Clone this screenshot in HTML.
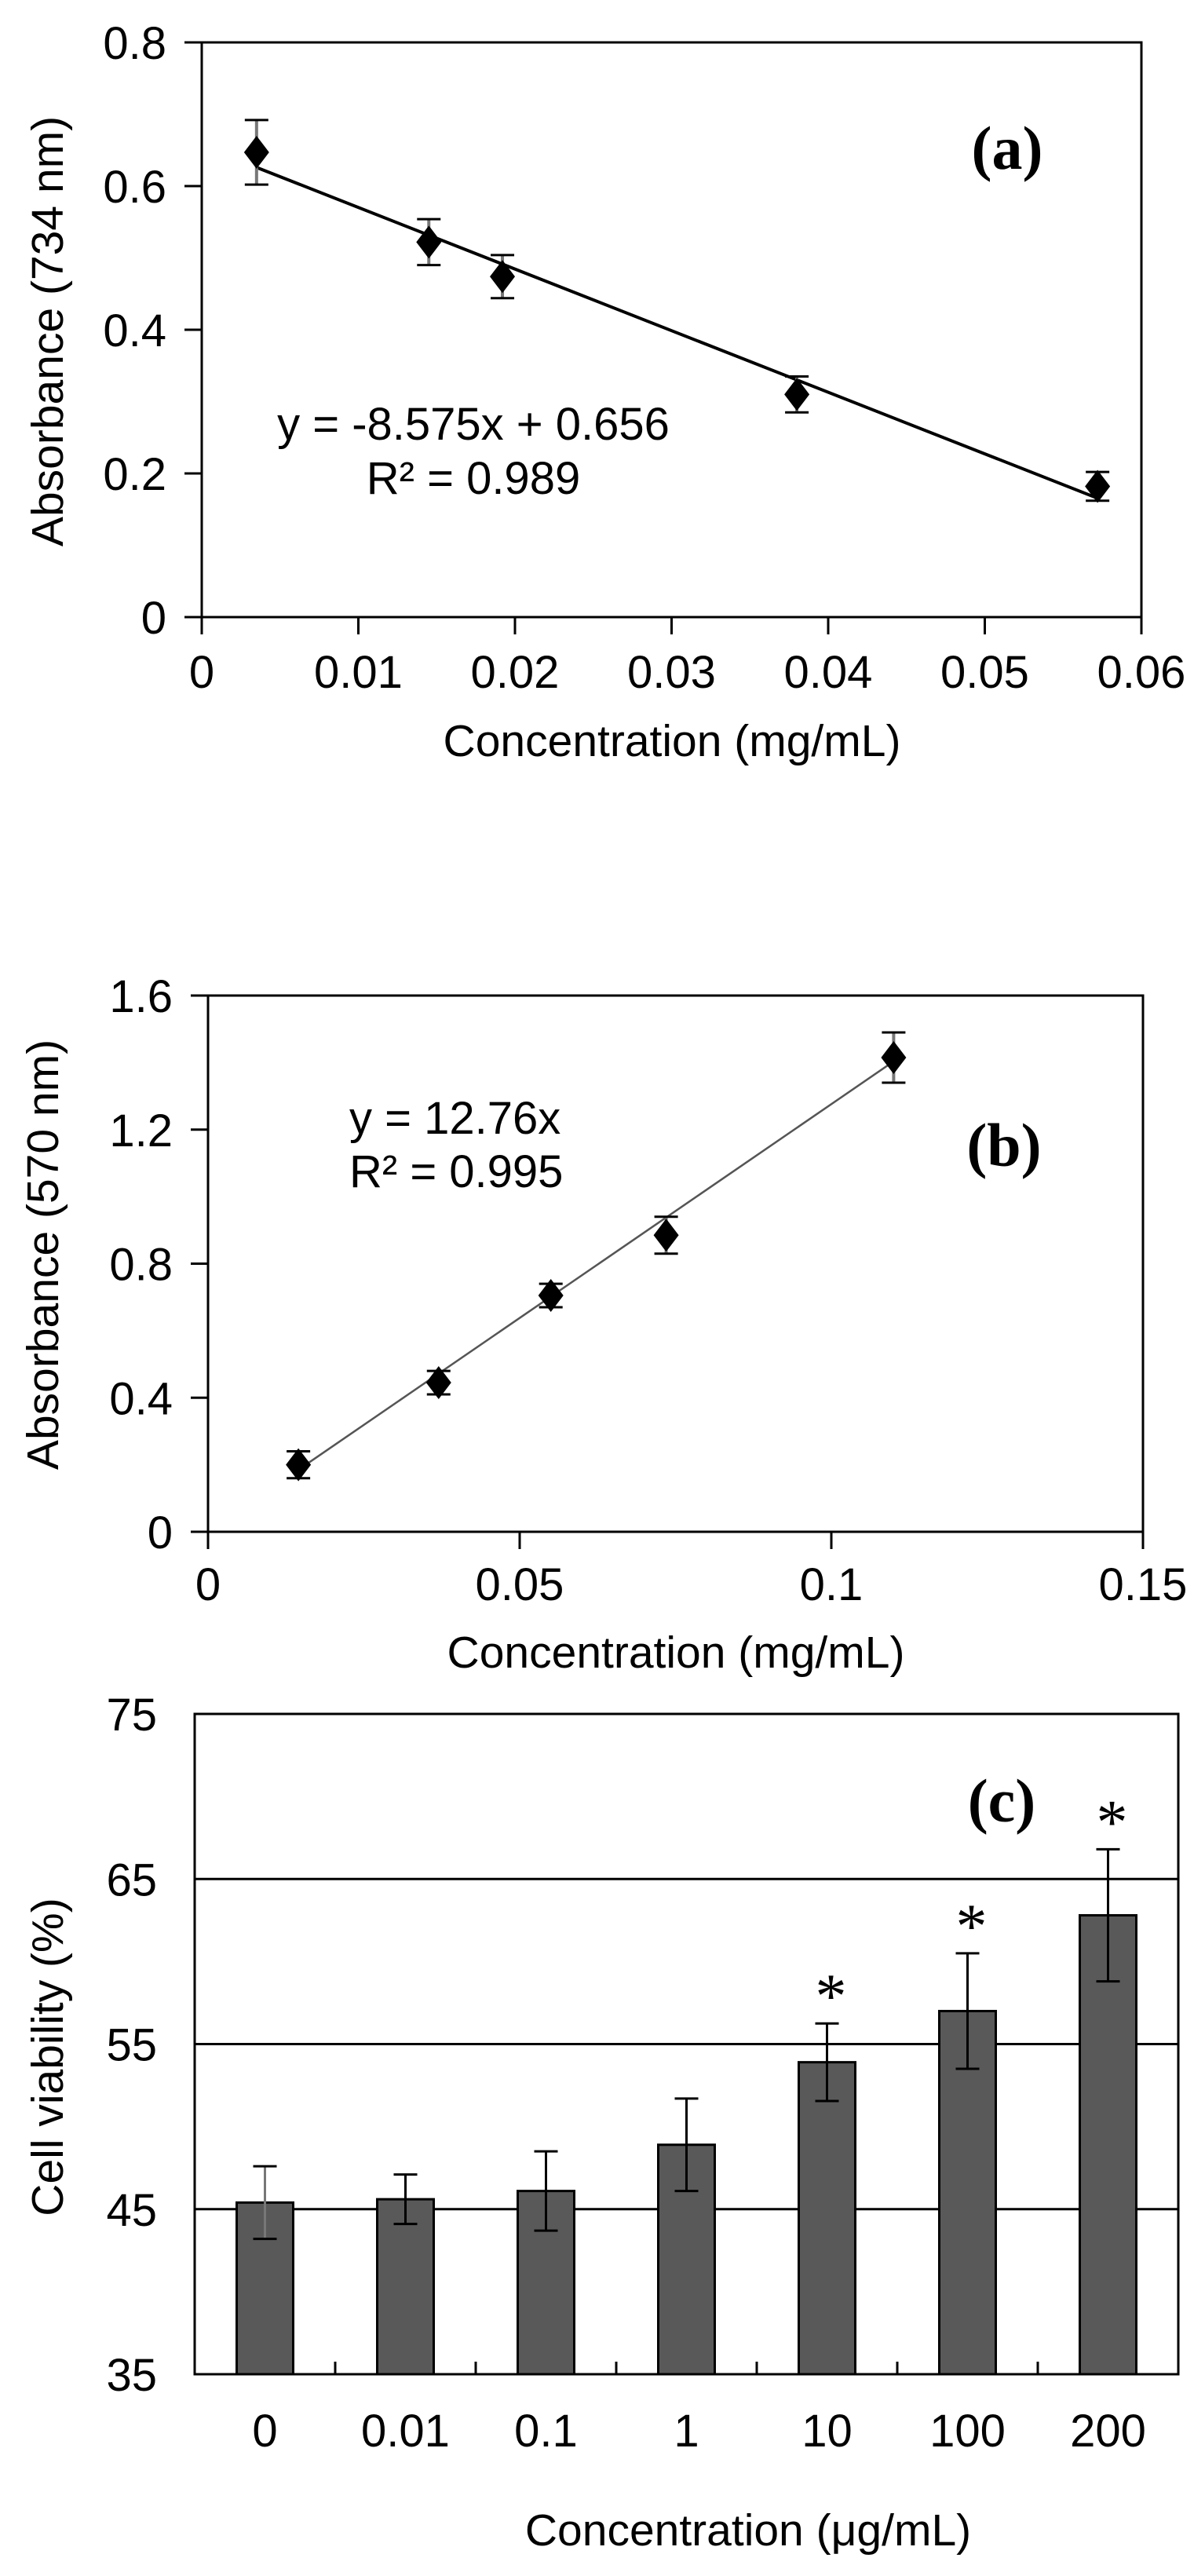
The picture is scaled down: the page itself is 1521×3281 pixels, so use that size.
<!DOCTYPE html>
<html><head><meta charset="utf-8"><style>
html,body{margin:0;padding:0;background:#fff}
svg{display:block}
text{font-family:"Liberation Sans",Arial,sans-serif;fill:#000}
.lbl{font-family:"Liberation Serif","Times New Roman",serif;font-weight:bold}
</style></head><body>
<svg id="fig" width="1521" height="3281" viewBox="0 0 1521 3281" xmlns="http://www.w3.org/2000/svg">
<rect width="1521" height="3281" fill="#fff"/>
<g id="ga"></g>
<g id="gb"></g>
<g id="gc"></g>
</svg>
<script>
// Chart (a) data
const aX = [0.0035, 0.0145, 0.0192, 0.038, 0.0572];
const aY = [0.647, 0.522, 0.474, 0.31, 0.182];
const aErr = [0.045, 0.032, 0.03, 0.025, 0.02];
const aXTicks = ["0", "0.01", "0.02", "0.03", "0.04", "0.05", "0.06"];
const aYTicks = ["0", "0.2", "0.4", "0.6", "0.8"];
const aSlope = -8.575, aIntercept = 0.656;
// Chart (b) data
const bX = [0.0145, 0.037, 0.055, 0.0735, 0.11];
const bY = [0.2, 0.445, 0.705, 0.885, 1.415];
const bErr = [0.04, 0.035, 0.035, 0.055, 0.075];
const bXTicks = ["0", "0.05", "0.1", "0.15"];
const bYTicks = ["0", "0.4", "0.8", "1.2", "1.6"];
const bSlope = 12.76;
// Chart (c) data
const cCats = ["0", "0.01", "0.1", "1", "10", "100", "200"];
const cVals = [45.4, 45.6, 46.1, 48.9, 53.9, 57.0, 62.8];
const cErr = [2.2, 1.5, 2.4, 2.8, 2.35, 3.5, 4.0];
const cSig = [false, false, false, false, true, true, true];
const cYTicks = ["35", "45", "55", "65", "75"];

const NS = "http://www.w3.org/2000/svg";
function mk(parent, tag, attrs, txt) {
  const e = document.createElementNS(NS, tag);
  for (const k in attrs) e.setAttribute(k, attrs[k]);
  if (txt !== undefined) e.textContent = txt;
  parent.appendChild(e);
  return e;
}

function scatterChart(g, o) {
  const sx = v => o.L + (v - o.xmin) / (o.xmax - o.xmin) * (o.R - o.L);
  const sy = v => o.B - (v - o.ymin) / (o.ymax - o.ymin) * (o.B - o.T);
  let e = mk(g, "rect", {x: o.L, y: o.T, width: o.R - o.L, height: o.B - o.T, fill: "none", stroke: "#000", "stroke-width": 3});
  
  
  o.yTicks.forEach(t => {
    const y = sy(parseFloat(t));
    let l = mk(g, "line", {x1: o.L - 22, x2: o.L, y1: y, y2: y, stroke: "#000", "stroke-width": 3});
    
    
    let tx = mk(g, "text", {x: o.L - 45, y: y + 21, "text-anchor": "end", "font-size": 58}, t);
    
    
  });
  o.xTicks.forEach(t => {
    const x = sx(parseFloat(t));
    let l = mk(g, "line", {x1: x, x2: x, y1: o.B, y2: o.B + 22, stroke: "#000", "stroke-width": 3});
    
    
    let tx = mk(g, "text", {x: x, y: o.xLabY + 21, "text-anchor": "middle", "font-size": 58}, t);
    
    
  });
  const x0 = o.xs[0], x1 = o.xs[o.xs.length - 1];
  let tl = mk(g, "line", {x1: sx(x0), y1: sy(o.fit(x0)), x2: sx(x1), y2: sy(o.fit(x1)), stroke: o.lineColor, "stroke-width": o.lineW});
  
  
  o.xs.forEach((xv, i) => {
    const x = sx(xv), y = sy(o.ys[i]), yt = sy(o.ys[i] + o.err[i]), yb = sy(o.ys[i] - o.err[i]);
    let eb = mk(g, "path", {d: `M${x},${yt}V${yb}`, stroke: "#777", "stroke-width": 4, fill: "none"});
    
    
    let cap = mk(g, "path", {d: `M${x-15},${yt}H${x+15}M${x-15},${yb}H${x+15}`, stroke: "#000", "stroke-width": 3, fill: "none"});
    
    
    let p = mk(g, "path", {d: `M${x},${y-21}L${x+16},${y}L${x},${y+21}L${x-16},${y}Z`, fill: "#000"});
    
    
  });
}

const ga = document.getElementById("ga");
scatterChart(ga, {L: 257, R: 1454, T: 54, B: 786, xmin: 0, xmax: 0.06, ymin: 0, ymax: 0.8,
  xTicks: aXTicks, yTicks: aYTicks, xs: aX, ys: aY, err: aErr, xLabY: 855,
  fit: x => aSlope * x + aIntercept, lineColor: "#000", lineW: 4});
const gb = document.getElementById("gb");
scatterChart(gb, {L: 265, R: 1456, T: 1268, B: 1951, xmin: 0, xmax: 0.15, ymin: 0, ymax: 1.6,
  xTicks: bXTicks, yTicks: bYTicks, xs: bX, ys: bY, err: bErr, xLabY: 2017,
  fit: x => bSlope * x, lineColor: "#555", lineW: 2.5});

const gc = document.getElementById("gc");
(function () {
  const L = 248, R = 1501, T = 2183, B = 3024, ymin = 35, ymax = 75;
  const sy = v => B - (v - ymin) / (ymax - ymin) * (B - T);
  const bw = (R - L) / cCats.length;
  const cx = i => L + bw * (i + 0.5);
  cYTicks.forEach(t => {
    const v = parseFloat(t), y = sy(v);
    if (v > ymin && v < ymax) {
      let gl = mk(gc, "line", {x1: L, x2: R, y1: y, y2: y, stroke: "#000", "stroke-width": 3});
      
      
    }
    let tx = mk(gc, "text", {x: 200, y: y + 21, "text-anchor": "end", "font-size": 58}, t);
    
    
  });
  for (let i = 1; i < cCats.length; i++) {
    const x = L + bw * i;
    let tk = mk(gc, "line", {x1: x, x2: x, y1: B - 16, y2: B, stroke: "#000", "stroke-width": 3});
    
    
  }
  cCats.forEach((c, i) => {
    const x = cx(i), y = sy(cVals[i]);
    let b = mk(gc, "rect", {x: x - 36, y: y, width: 72, height: B - y, fill: "#595959", stroke: "#000", "stroke-width": 3});
    
    
    const yt = sy(cVals[i] + cErr[i]), yb = sy(cVals[i] - cErr[i]);
    let st = mk(gc, "path", {d: `M${x},${yt}V${yb}`, stroke: i === 0 ? "#777" : "#000", "stroke-width": 3, fill: "none"});
    
    
    let eb = mk(gc, "path", {d: `M${x-15},${yt}H${x+15}M${x-15},${yb}H${x+15}`, stroke: "#000", "stroke-width": 3, fill: "none"});
    
    
    if (cSig[i]) {
      let s = mk(gc, "text", {x: x + 5, y: yt - 8, "text-anchor": "middle", "font-size": 80, "class": "lbl", style: "font-weight:normal"}, "*");
      
      
    }
    let tx = mk(gc, "text", {x: x, y: 3116, "text-anchor": "middle", "font-size": 58}, c);
    
    
  });
  let fr = mk(gc, "rect", {x: L, y: T, width: R - L, height: B - T, fill: "none", stroke: "#000", "stroke-width": 3});
  
  
})();
</script>
<svg style="position:absolute;left:0;top:0" width="1521" height="3281" viewBox="0 0 1521 3281">
<text x="603" y="560" text-anchor="middle" font-size="58">y = -8.575x + 0.656</text>
<text x="603" y="629" text-anchor="middle" font-size="58">R² = 0.989</text>
<text class="lbl" x="1283" y="215" text-anchor="middle" font-size="78">(a)</text>
<text x="856" y="963" text-anchor="middle" font-size="57">Concentration (mg/mL)</text>
<text transform="translate(80,422) rotate(-90)" text-anchor="middle" font-size="57">Absorbance (734 nm)</text>

<text x="445" y="1444" font-size="58">y = 12.76x</text>
<text x="445" y="1512" font-size="58">R² = 0.995</text>
<text class="lbl" x="1279" y="1485" text-anchor="middle" font-size="78">(b)</text>
<text x="861" y="2124" text-anchor="middle" font-size="57">Concentration (mg/mL)</text>
<text transform="translate(74,1598) rotate(-90)" text-anchor="middle" font-size="57">Absorbance (570 nm)</text>

<text class="lbl" x="1276" y="2320" text-anchor="middle" font-size="78">(c)</text>
<text x="953" y="3242" text-anchor="middle" font-size="57">Concentration (μg/mL)</text>
<text transform="translate(80,2620) rotate(-90)" text-anchor="middle" font-size="57">Cell viability (%)</text>
</svg>
</body></html>
